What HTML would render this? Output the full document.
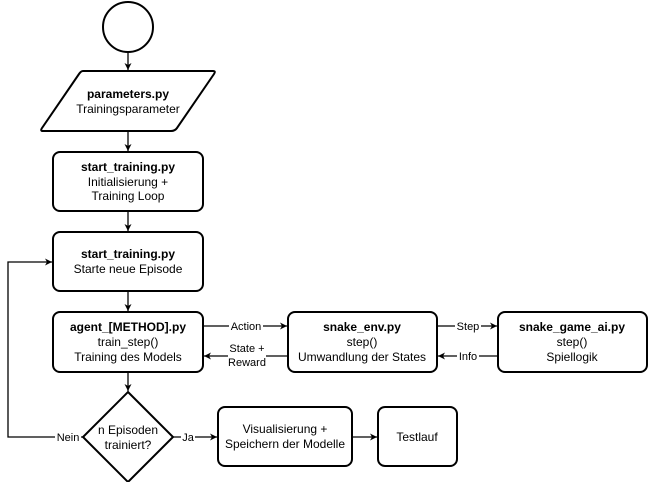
<!DOCTYPE html>
<html><head><style>
html,body{margin:0;padding:0;background:#fff;}
svg text{font-family:"Liberation Sans",Arial,sans-serif;font-size:12px;fill:#000;}
.b{font-weight:bold;}
</style></head><body>
<svg width="649" height="482" viewBox="0 0 649 482" xmlns="http://www.w3.org/2000/svg">
<defs><marker id="a" markerWidth="8" markerHeight="8" refX="7" refY="4" orient="auto" markerUnits="userSpaceOnUse"><path d="M0,0.5 L7,4 L0,7.5 L2,4 Z" fill="#000"/></marker></defs>
<g fill="#fff" stroke="#000" stroke-width="2">
<circle cx="128" cy="27" r="25"/>
<path d="M83,71 L213,71 Q216,71 214,74 L177,128 Q175,131 171,131 L43,131 Q40,131 42,128 L79,74 Q81,71 83,71 Z"/>
<rect x="53" y="152" width="150" height="59" rx="7"/>
<rect x="53" y="232" width="150" height="59" rx="7"/>
<rect x="53" y="312" width="150" height="60" rx="7"/>
<rect x="288" y="312" width="149" height="60" rx="7"/>
<rect x="498" y="312" width="149" height="60" rx="7"/>
<path d="M128,392 L173,437 L128,482 L83,437 Z"/>
<rect x="218" y="407" width="134" height="59" rx="7"/>
<rect x="378" y="407" width="79" height="59" rx="7"/>
</g>
<g stroke="#000" stroke-width="1.3" fill="none">
<line x1="128" y1="52" x2="128" y2="70" marker-end="url(#a)"/>
<line x1="128" y1="131" x2="128" y2="151" marker-end="url(#a)"/>
<line x1="128" y1="211" x2="128" y2="231" marker-end="url(#a)"/>
<line x1="128" y1="291" x2="128" y2="311" marker-end="url(#a)"/>
<line x1="128" y1="372" x2="128" y2="391" marker-end="url(#a)"/>
<line x1="203" y1="326" x2="287" y2="326" marker-end="url(#a)"/>
<line x1="288" y1="356" x2="204" y2="356" marker-end="url(#a)"/>
<line x1="437" y1="326" x2="497" y2="326" marker-end="url(#a)"/>
<line x1="498" y1="356" x2="438" y2="356" marker-end="url(#a)"/>
<line x1="173" y1="437" x2="217" y2="437" marker-end="url(#a)"/>
<line x1="352" y1="437" x2="377" y2="437" marker-end="url(#a)"/>
<polyline points="83,437 8,437 8,262 52,262" marker-end="url(#a)"/>
</g>
<g text-anchor="middle">
<text x="128" y="98" class="b">parameters.py</text>
<text x="128" y="113">Trainingsparameter</text>
<text x="128" y="171" class="b">start_training.py</text>
<text x="128" y="186">Initialisierung +</text>
<text x="128" y="200">Training Loop</text>
<text x="128" y="258" class="b">start_training.py</text>
<text x="128" y="273">Starte neue Episode</text>
<text x="128" y="331" class="b">agent_[METHOD].py</text>
<text x="128" y="346">train_step()</text>
<text x="128" y="361">Training des Models</text>
<text x="362" y="331" class="b">snake_env.py</text>
<text x="362" y="346">step()</text>
<text x="362" y="361">Umwandlung der States</text>
<text x="572" y="331" class="b">snake_game_ai.py</text>
<text x="572" y="346">step()</text>
<text x="572" y="361">Spiellogik</text>
<text x="128" y="434">n Episoden</text>
<text x="128" y="449">trainiert?</text>
<text x="285" y="433">Visualisierung +</text>
<text x="285" y="448">Speichern der Modelle</text>
<text x="417" y="441">Testlauf</text>
</g>
<g text-anchor="middle" style="font-size:11px">
<rect x="229" y="319" width="34" height="13" fill="#fff"/>
<text x="246" y="330" style="font-size:11px">Action</text>
<rect x="228" y="342" width="38" height="27" fill="#fff"/>
<text x="247" y="352" style="font-size:11px">State +</text>
<text x="247" y="366" style="font-size:11px">Reward</text>
<rect x="455" y="319" width="26" height="13" fill="#fff"/>
<text x="468" y="330" style="font-size:11px">Step</text>
<rect x="457" y="349" width="22" height="13" fill="#fff"/>
<text x="468" y="360" style="font-size:11px">Info</text>
<rect x="55" y="430" width="26" height="13" fill="#fff"/>
<text x="68" y="441" style="font-size:11px">Nein</text>
<rect x="181" y="430" width="14" height="13" fill="#fff"/>
<text x="188" y="441" style="font-size:11px">Ja</text>
</g>
</svg>
</body></html>
